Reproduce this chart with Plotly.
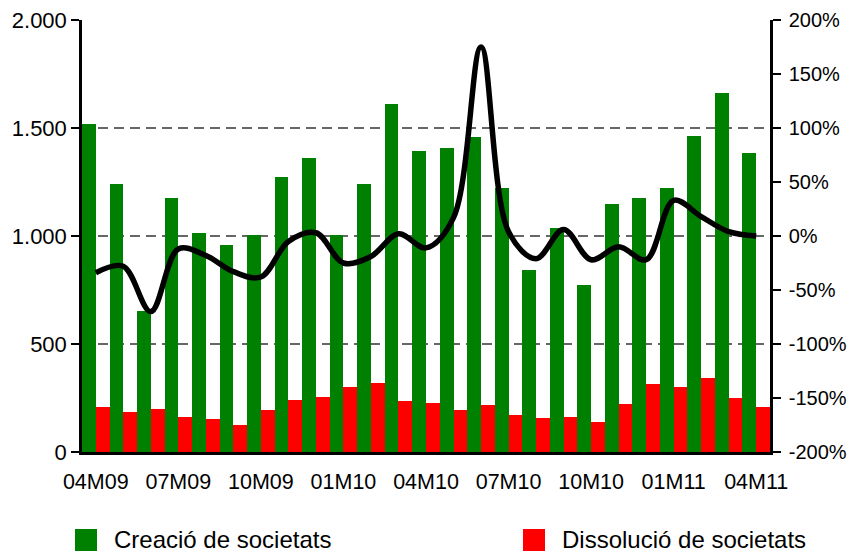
import plotly.graph_objects as go

MONTHS = [
    "04M09", "05M09", "06M09", "07M09", "08M09", "09M09", "10M09", "11M09", "12M09",
    "01M10", "02M10", "03M10", "04M10", "05M10", "06M10", "07M10", "08M10", "09M10",
    "10M10", "11M10", "12M10", "01M11", "02M11", "03M11", "04M11",
]
CREACIO = [1518, 1241, 653, 1176, 1014, 958, 1005, 1273, 1361, 1005, 1241, 1611, 1394,
           1407, 1458, 1222, 843, 1037, 773, 1148, 1176, 1222, 1463, 1662, 1384]
DISSOLUCIO = [208, 185, 199, 162, 153, 125, 194, 241, 255, 301, 319, 236, 227,
              194, 218, 171, 157, 162, 139, 222, 315, 301, 343, 250, 208]
VARIACIO = [-34, -28, -70, -12, -18, -33, -38, -5, 3, -25, -19, 2, -11,
            17, 175, 4, -21, 6, -22, -10, -22, 33, 18, 4, 0]

X_TICKS = MONTHS[::3]
Y2_VALS = [-200, -150, -100, -50, 0, 50, 100, 150, 200]
Y2_TEXT = ["-200%", "-150%", "-100%", "-50%", "0%", "50%", "100%", "150%", "200%"]

FONT = "Liberation Sans, Arial, sans-serif"
GREEN = "#008000"
RED = "#FF0000"

fig = go.Figure()
fig.add_trace(go.Bar(x=MONTHS, y=CREACIO, name="Creació de societats",
                     marker=dict(color=GREEN, line=dict(width=0))))
fig.add_trace(go.Bar(x=MONTHS, y=DISSOLUCIO, name="Dissolució de societats",
                     marker=dict(color=RED, line=dict(width=0))))
fig.add_trace(go.Scatter(x=MONTHS, y=VARIACIO, yaxis="y2", mode="lines",
                         line=dict(color="black", width=5.5, shape="spline", smoothing=1),
                         showlegend=False))

axis_line = dict(showline=True, linecolor="black", linewidth=2.5, automargin=False)

fig.update_layout(
    template="none",
    width=847,
    height=556,
    margin=dict(l=82, r=77, t=20, b=104, autoexpand=False),
    paper_bgcolor="white",
    plot_bgcolor="white",
    font=dict(family=FONT, size=22, color="black"),
    separators=",.",
    barmode="group",
    bargap=0,
    bargroupgap=0,
    showlegend=False,
    xaxis=dict(
        type="category",
        range=[-0.5, 24.5],
        tickvals=X_TICKS,
        ticks="outside",
        ticklen=8,
        tickcolor="rgba(0,0,0,0)",
        tickfont=dict(size=21.5),
        showgrid=False,
        **axis_line,
    ),
    yaxis=dict(
        range=[0, 2000],
        dtick=500,
        tickformat=",d",
        ticks="outside",
        ticklen=8,
        tickwidth=2,
        tickcolor="black",
        showgrid=True,
        gridcolor="#666666",
        gridwidth=1.8,
        griddash="10px,6px",
        zeroline=False,
        **axis_line,
    ),
    yaxis2=dict(
        overlaying="y",
        side="right",
        range=[-200, 200],
        tickvals=Y2_VALS,
        ticktext=Y2_TEXT,
        tickfont=dict(size=20),
        ticks="outside",
        ticklen=8,
        tickwidth=2,
        tickcolor="black",
        ticklabelstandoff=4,
        showgrid=False,
        zeroline=False,
        **axis_line,
    ),
    # inner halves of the crossing tick marks
    yaxis3=dict(
        overlaying="y",
        side="left",
        anchor="x",
        range=[0, 2000],
        dtick=500,
        ticks="inside",
        ticklen=8,
        tickwidth=2,
        tickcolor="black",
        showticklabels=False,
        showgrid=False,
        zeroline=False,
        automargin=False,
    ),
    yaxis4=dict(
        overlaying="y",
        side="right",
        anchor="x",
        range=[-200, 200],
        dtick=50,
        ticks="inside",
        ticklen=8,
        tickwidth=2,
        tickcolor="black",
        showticklabels=False,
        showgrid=False,
        zeroline=False,
        automargin=False,
    ),
)

# legend drawn below the plot
legend_items = [("Creació de societats", GREEN, -0.0102), ("Dissolució de societats", RED, 0.641)]
for label, color, x0 in legend_items:
    fig.add_shape(type="rect", xref="paper", yref="paper",
                  x0=x0, x1=x0 + 0.032, y0=-0.2292, y1=-0.1782,
                  fillcolor=color, line=dict(width=0))
    fig.add_annotation(text=label, xref="paper", yref="paper",
                       x=x0 + 0.054, y=-0.2037, xanchor="left", yanchor="middle",
                       showarrow=False, font=dict(size=24, family=FONT, color="black"))

# page default body margin would shift the chart by 8px
fig.write_html("out.html", config={"displayModeBar": False},
               post_script="document.body.style.margin = '0';")
